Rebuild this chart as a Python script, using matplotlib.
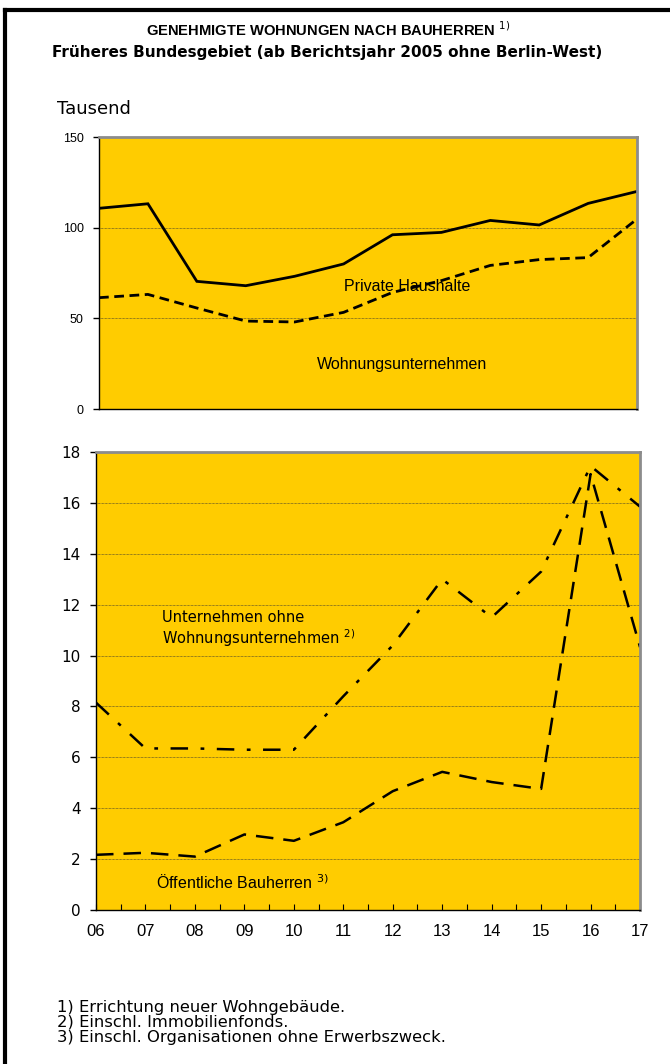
import matplotlib
matplotlib.use('Agg')
import matplotlib.pyplot as plt
from matplotlib.ticker import MultipleLocator

years = ['06', '07', '08', '09', '10', '11', '12', '13', '14', '15', '16', '17']
private_haushalte = [110.7, 113.2, 70.4, 68.0, 73.2, 80.0, 96.1, 97.4, 104.0, 101.5, 113.4, 120.0]
wohnungsunternehmen = [61.4, 63.2, 55.7, 48.5, 48.0, 53.3, 64.3, 70.8, 79.2, 82.4, 83.5, 104.8]
unternehmen_ohne = [8.15, 6.35, 6.35, 6.3, 6.3, 8.4, 10.4, 13.0, 11.5, 13.3, 17.45, 15.85]
oeffentliche = [2.17, 2.25, 2.1, 2.97, 2.72, 3.45, 4.67, 5.43, 5.03, 4.76, 17.13, 10.33]

YELLOW = '#FFCC00'
GRAY = '#8c8c8c'
DEJAVU = ['DejaVu Sans']
ARIAL = ['Liberation Sans', 'DejaVu Sans']

fig = plt.figure(figsize=(6.7, 10.64), dpi=100)

# frame lines (top and left only)
fig.add_artist(plt.Line2D([0.008, 1.0], [0.9905, 0.9905], color='black', lw=3))
fig.add_artist(plt.Line2D([0.008, 0.008], [0.0, 0.9905], color='black', lw=3))

fig.text(0.49, 0.972, 'GENEHMIGTE WOHNUNGEN NACH BAUHERREN $^{1)}$', ha='center', va='center',
         fontsize=10.6, fontweight='bold', family=ARIAL)
fig.text(0.488, 0.951, 'Früheres Bundesgebiet (ab Berichtsjahr 2005 ohne Berlin-West)', ha='center',
         va='center', fontsize=11, fontweight='bold', family=DEJAVU)
fig.text(0.085, 0.898, 'Tausend', ha='left', va='center', fontsize=13, family=DEJAVU)

x = list(range(len(years)))


def style_axes(ax):
    ax.set_facecolor(YELLOW)
    ax.set_xlim(0, len(years) - 1)
    for s in ['top', 'right']:
        ax.spines[s].set_color(GRAY)
        ax.spines[s].set_linewidth(2)
    for s in ['left', 'bottom']:
        ax.spines[s].set_color('black')
        ax.spines[s].set_linewidth(1)
    ax.yaxis.grid(True, color='#333333', linestyle=(0, (1, 1)), linewidth=0.5)
    ax.set_axisbelow(True)


# top chart
ax1 = fig.add_axes([0.1478, 0.6156, 0.803, 0.2556])
style_axes(ax1)
ax1.plot(x, private_haushalte, color='black', lw=2, solid_joinstyle='miter')
ax1.plot(x, wohnungsunternehmen, color='black', lw=2, linestyle=(0, (3.5, 2)))
ax1.set_ylim(0, 150)
ax1.yaxis.set_major_locator(MultipleLocator(50))
ax1.set_xticks([])
ax1.tick_params(axis='y', length=4, width=1, labelsize=9, pad=7)
for lab in ax1.get_yticklabels():
    lab.set_family(ARIAL)
ax1.text(6.3, 67.5, 'Private Haushalte', ha='center', va='center', fontsize=11.5, family=ARIAL)
ax1.text(6.2, 24.5, 'Wohnungsunternehmen', ha='center', va='center', fontsize=11.5, family=ARIAL)

# bottom chart
ax2 = fig.add_axes([0.1433, 0.1447, 0.812, 0.4305])
style_axes(ax2)
ax2.plot(x, unternehmen_ohne, color='black', lw=1.8, linestyle=(0, (7, 5, 1.5, 5)))
ax2.plot(x, oeffentliche, color='black', lw=1.8, linestyle=(0, (7, 4)))
ax2.set_ylim(0, 18)
ax2.yaxis.set_major_locator(MultipleLocator(2))
ax2.set_xticks(x)
ax2.set_xticklabels(years)
ax2.xaxis.set_minor_locator(MultipleLocator(0.5))
ax2.tick_params(axis='x', which='both', direction='in', length=4, width=0.8, labelsize=12, pad=10)
ax2.tick_params(axis='y', length=4, width=1, labelsize=11, pad=7)
for lab in ax2.get_xticklabels():
    lab.set_family(ARIAL)
for lab in ax2.get_yticklabels():
    lab.set_family(DEJAVU)
ax2.text(1.33, 11.5, 'Unternehmen ohne', ha='left', va='center', fontsize=10.5, family=DEJAVU)
ax2.text(1.33, 10.7, 'Wohnungsunternehmen $^{2)}$', ha='left', va='center', fontsize=10.5, family=DEJAVU)
ax2.text(1.22, 1.08, 'Öffentliche Bauherren $^{3)}$', ha='left', va='center', fontsize=11.5, family=ARIAL)

# footnotes
fig.text(0.085, 0.018, '1) Errichtung neuer Wohngebäude.\n2) Einschl. Immobilienfonds.\n'
         '3) Einschl. Organisationen ohne Erwerbszweck.', ha='left', va='bottom',
         fontsize=11.8, family=DEJAVU, linespacing=1.0)

fig.savefig('out.png', dpi=100)
